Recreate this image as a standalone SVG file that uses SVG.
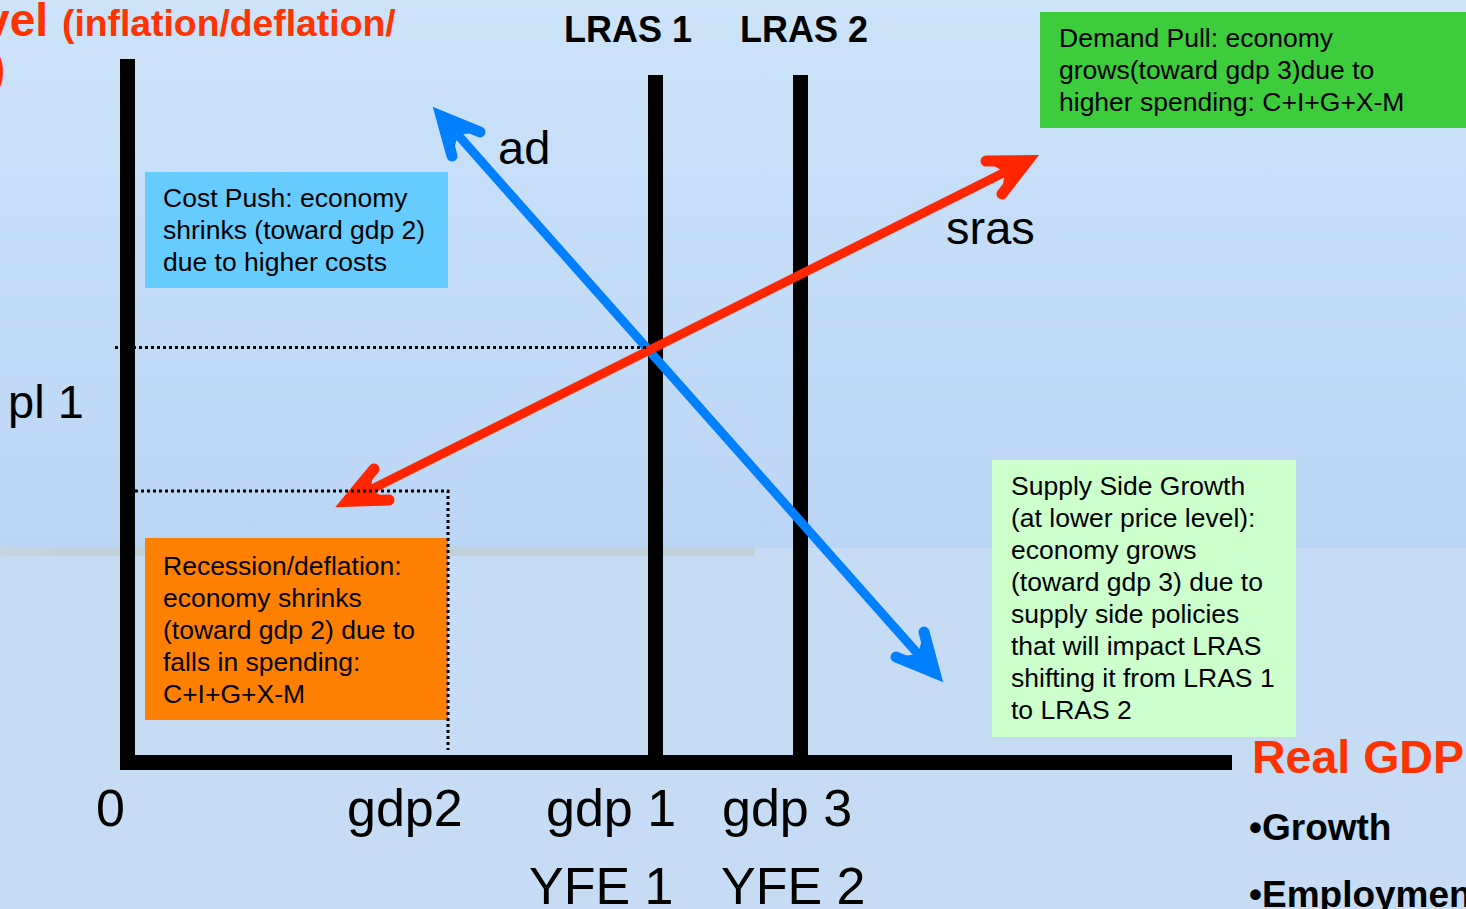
<svg xmlns="http://www.w3.org/2000/svg" width="1466" height="909" viewBox="0 0 1466 909">
  <defs>
    <linearGradient id="skyTop" x1="0" y1="0" x2="0" y2="1">
      <stop offset="0" stop-color="#cce3f8"/>
      <stop offset="1" stop-color="#bbd5f5"/>
    </linearGradient>
    <linearGradient id="band" x1="0" y1="0" x2="1" y2="0">
      <stop offset="0" stop-color="#c6d6e2"/>
      <stop offset="0.12" stop-color="#c0d1da"/>
      <stop offset="1" stop-color="#c0d1d8"/>
    </linearGradient>
    <style>
      text { font-family: "Liberation Sans", Arial, Helvetica, sans-serif; }
      .box-text { font-size: 26.5px; fill: #000; }
      .big { font-size: 52px; fill: #000; }
      .curve-label { font-size: 47px; fill: #000; }
      .title { font-weight: bold; fill: #ff3300; }
      .lras { font-size: 36px; font-weight: bold; fill: #000; }
      .axis { stroke: #000; stroke-width: 15; fill: none; }
      .dots { stroke: #000; stroke-width: 3; stroke-dasharray: 3 3; fill: none; }
      .ad { stroke: #0080ff; fill: #0080ff; }
      .sras { stroke: #ff2600; fill: #ff2600; }
      .shaft { stroke-width: 9; fill: none; }
      .head { stroke-width: 11; stroke-linecap: round; stroke-linejoin: miter; stroke-miterlimit: 10; }
    </style>
  </defs>

  <!-- background -->
  <rect x="0" y="0" width="1466" height="548" fill="url(#skyTop)"/>
  <rect x="0" y="548" width="1466" height="361" fill="#c5dcf4"/>
  <rect x="0" y="547" width="755" height="9" fill="url(#band)"/>

  <!-- axis titles -->
  <g id="y-axis-title">
    <text class="title" x="48" y="36" font-size="46" text-anchor="end">vel</text>
    <text class="title" x="62" y="36" font-size="37.3">(inflation/deflation/</text>
    <text class="title" x="-10" y="84" font-size="46">)</text>
  </g>
  <g id="x-axis-title">
    <text class="title" x="1252" y="773" font-size="46.5">Real GDP</text>
    <text x="1249" y="840" font-size="37" font-weight="bold" fill="#000">•Growth</text>
    <text x="1249" y="907" font-size="37" font-weight="bold" fill="#000">•Employment</text>
  </g>

  <!-- annotation boxes -->
  <g id="cost-push">
    <rect x="145" y="172" width="303" height="116" fill="#66ccff"/>
    <text class="box-text" x="163" y="207">Cost Push: economy</text>
    <text class="box-text" x="163" y="239">shrinks (toward gdp 2)</text>
    <text class="box-text" x="163" y="271">due to higher costs</text>
  </g>
  <g id="demand-pull">
    <rect x="1040" y="12" width="426" height="116" fill="#3ccc3c"/>
    <text class="box-text" x="1059" y="47">Demand Pull: economy</text>
    <text class="box-text" x="1059" y="79">grows(toward gdp 3)due to</text>
    <text class="box-text" x="1059" y="111">higher spending: C+I+G+X-M</text>
  </g>
  <g id="recession">
    <rect x="145" y="538" width="303" height="182" fill="#ff8000"/>
    <text class="box-text" x="163" y="575">Recession/deflation:</text>
    <text class="box-text" x="163" y="607">economy shrinks</text>
    <text class="box-text" x="163" y="639">(toward gdp 2) due to</text>
    <text class="box-text" x="163" y="671">falls in spending:</text>
    <text class="box-text" x="163" y="703">C+I+G+X-M</text>
  </g>
  <g id="supply-side">
    <rect x="992" y="460" width="304" height="277" fill="#ccffcc"/>
    <text class="box-text" x="1011" y="495">Supply Side Growth</text>
    <text class="box-text" x="1011" y="527">(at lower price level):</text>
    <text class="box-text" x="1011" y="559">economy grows</text>
    <text class="box-text" x="1011" y="591">(toward gdp 3) due to</text>
    <text class="box-text" x="1011" y="623">supply side policies</text>
    <text class="box-text" x="1011" y="655">that will impact LRAS</text>
    <text class="box-text" x="1011" y="687">shifting it from LRAS 1</text>
    <text class="box-text" x="1011" y="719">to LRAS 2</text>
  </g>

  <!-- axes and long-run supply lines -->
  <g id="connectors">
    <line class="axis" x1="127.5" y1="59" x2="127.5" y2="770"/>
    <line class="axis" x1="120" y1="762.5" x2="1232" y2="762.5"/>
    <line class="axis" x1="655.5" y1="75" x2="655.5" y2="755"/>
    <line class="axis" x1="800.5" y1="75" x2="800.5" y2="755"/>

    <!-- aggregate demand -->
    <g id="ad-curve" class="ad">
      <line class="shaft" x1="458" y1="135" x2="918" y2="654"/>
      <polygon points="441,116 480,132 458,135 452,156" stroke="none"/>
      <polyline class="head" points="480,132 441,116 452,156" fill="none"/>
      <polygon points="935,673 924,632 918,654 896,657" stroke="none"/>
      <polyline class="head" points="924,632 935,673 896,657" fill="none"/>
    </g>

    <!-- short-run aggregate supply -->
    <g id="sras-curve" class="sras">
      <line class="shaft" x1="370.5" y1="489.8" x2="1004.6" y2="172.2"/>
      <polygon points="347.2,501.4 374,469 370.5,489.8 389,500" stroke="none"/>
      <polyline class="head" points="374,469 347.2,501.4 389,500" fill="none"/>
      <polygon points="1027.8,160.6 986,161 1004.6,172.2 1002,194" stroke="none"/>
      <polyline class="head" points="986,161 1027.8,160.6 1002,194" fill="none"/>
    </g>

    <!-- dotted guide lines -->
    <line class="dots" x1="115" y1="347.5" x2="648" y2="347.5"/>
    <polyline class="dots" points="135,491 448,491 448,750"/>
  </g>

  <!-- curve and line labels -->
  <g id="labels">
    <text class="lras" x="564" y="42">LRAS 1</text>
    <text class="lras" x="740" y="42">LRAS 2</text>
    <text class="curve-label" x="498" y="164">ad</text>
    <text class="curve-label" x="946" y="244">sras</text>
    <text class="curve-label" x="8" y="418" font-size="45">pl 1</text>
    <text class="big" x="96" y="826">0</text>
    <text class="big" x="347" y="826">gdp2</text>
    <text class="big" x="546" y="826">gdp 1</text>
    <text class="big" x="722" y="826">gdp 3</text>
    <text class="big" x="529" y="904">YFE 1</text>
    <text class="big" x="721" y="904">YFE 2</text>
  </g>
</svg>
